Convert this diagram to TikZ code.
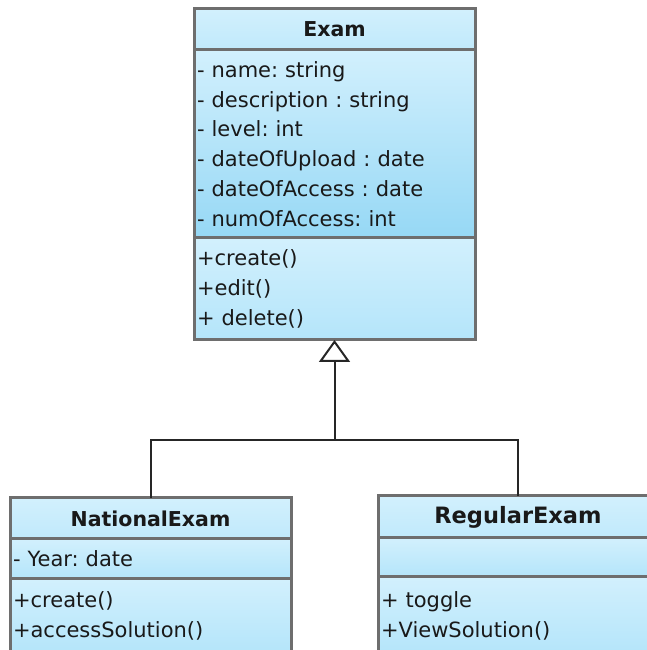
\documentclass[tikz,border=0pt]{standalone}
\usepackage{fontspec}
\setmainfont{DejaVu Sans}
\usepackage{xcolor}
\usetikzlibrary{positioning, arrows.meta, calc}
\frenchspacing
\definecolor{clsBorder}{RGB}{110,110,110}
\definecolor{clsLight}{RGB}{210,240,253}
\definecolor{clsMid}{RGB}{180,229,250}
\definecolor{clsDark}{RGB}{150,216,245}
\tikzset{
    umlpart/.style={
        rectangle,
        draw=clsBorder,
        line width=3pt,
        outer sep=0pt,
        inner xsep=3pt,
        inner ysep=0pt,
        minimum width=281pt,
        text width=275pt,
        font=\fontsize{21}{29.8}\selectfont,
        text=black!90
    },
    umltitle/.style={
        umlpart,
        align=center,
        font=\fontsize{20.5}{24}\selectfont\bfseries,
        top color=clsLight,
        bottom color=clsMid!60!clsLight
    },
    umlattr/.style={
        umlpart,
        align=left,
        top color=clsLight,
        bottom color=clsDark
    },
    umlops/.style={
        umlpart,
        align=left,
        top color=clsLight,
        bottom color=clsMid
    },
    conn/.style={
        draw=black!85,
        line width=2pt
    },
    inherit/.style={
        conn,
        -{Triangle[open, length=22pt, width=31pt, line width=2pt]}
    }
}

\begin{document}
\begin{tikzpicture}[x=1pt, y=1pt]
    \path[use as bounding box, clip] (0,0) rectangle (647,650);

    % Exam
    \node[umltitle, minimum height=41pt, anchor=north] (exam) at (334.5,641) {Exam};
    \node[umlattr, minimum height=188pt, below=0pt of exam] (examAttr) {- name: string\\- description : string\\- level: int\\- dateOfUpload : date\\- dateOfAccess : date\\- numOfAccess: int};
    \node[umlops, minimum height=102pt, below=0pt of examAttr] (examOps) {+create()\\+edit()\\+ delete()};

    % NationalExam
    \node[umltitle, minimum height=41pt, anchor=north] (natExam) at (150.5,152) {NationalExam};
    \node[umlattr, minimum height=40pt, below=0pt of natExam, bottom color=clsMid] (natAttr) {- Year: date};
    \node[umlops, minimum height=74pt, below=0pt of natAttr] (natOps) {+create()\\+accessSolution()};

    % RegularExam
    \node[umltitle, minimum height=42pt, minimum width=280pt, text width=274pt, anchor=north,
          font=\fontsize{22.5}{26}\selectfont\bfseries] (regExam) at (518,154) {RegularExam};
    \node[umlattr, minimum height=39pt, minimum width=280pt, text width=274pt, below=0pt of regExam, bottom color=clsMid] (regAttr) {};
    \node[umlops, minimum height=78pt, minimum width=280pt, text width=274pt, below=0pt of regAttr] (regOps) {+ toggle\\+ViewSolution()};

    % generalization
    \coordinate[below=100pt of examOps.south] (split);
    \draw[inherit] (split) -- (examOps.south);
    \draw[conn] (natExam.north) |- (split) -| (regExam.north);
\end{tikzpicture}
\end{document}
